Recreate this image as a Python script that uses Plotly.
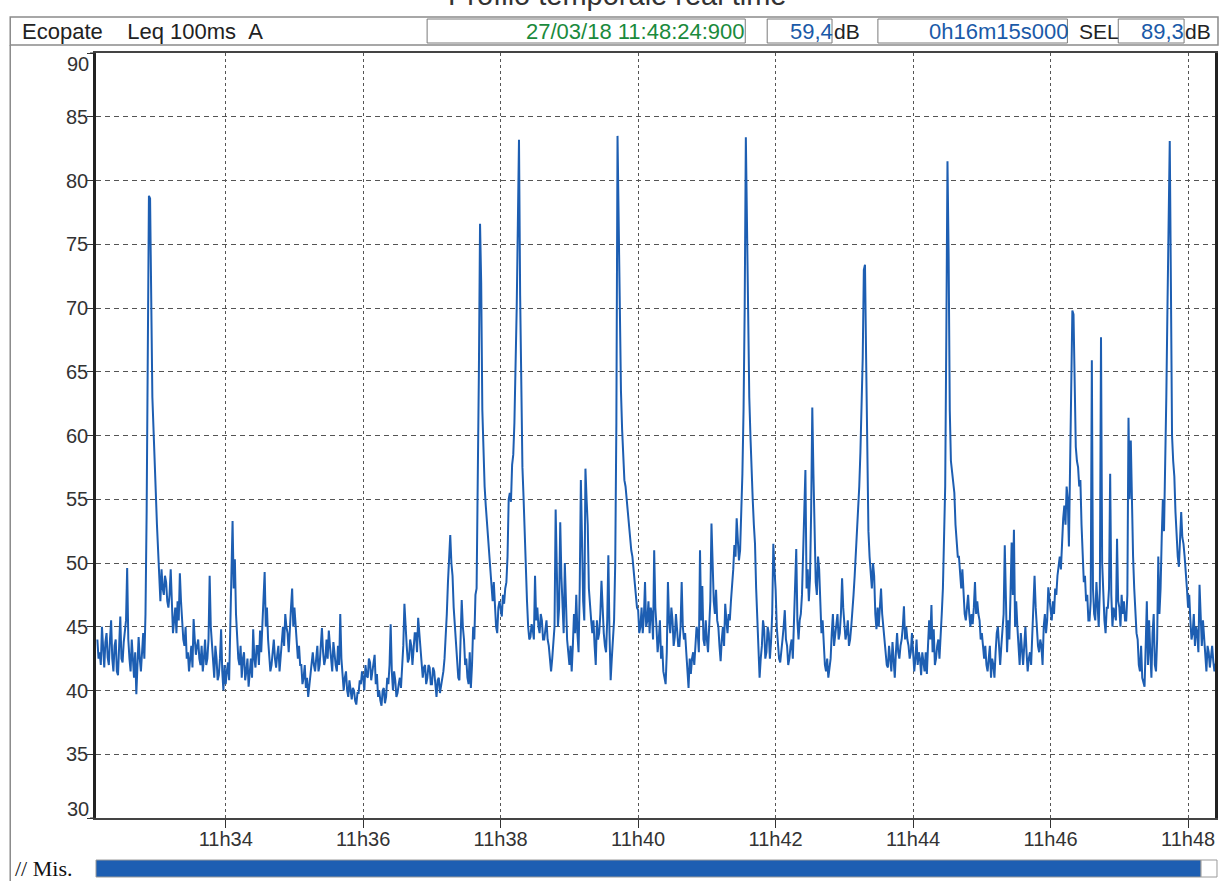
import pandas as pd
import plotly.graph_objects as go

# ---------------- data (Leq 100ms A, read every second) ----------------
# each block: values on the even seconds, then the values one second later
START = "2018-03-27 11:32:08"
STEP = "1s"

seg_1132 = [44.0, 43.0, 45.0, 41.8, 44.5, 42.0, 45.5, 41.5, 44.0, 41.2, 45.8,
            42.2, 44.5, 49.6, 42.5, 44.0, 41.0, 39.7, 44.2, 41.5, 44.5,
            46.0, 65.5, 78.6, 63.0, 57.0, 53.0, 48.0, 49.5, 47.5, 48.5,
            46.5, 49.5, 44.5, 46.5, 47.0, 49.2, 45.5, 43.5, 42.5, 41.5,
            43.5, 45.6, 42.8, 44.0, 42.0, 41.5, 44.0, 42.5, 49.0, 43.5,
            41.0, 42.5, 41.2, 44.8, 40.0]
seg_1132_odd = [42.5, 42.0, 43.5, 43.8, 42.6, 44.0, 42.5, 43.5, 41.5, 43.5, 42.5,
                43.8, 45.5, 44.0, 41.5, 42.5, 43.0, 42.0, 42.5, 43.0, 42.5,
                54.0, 78.8, 70.0, 60.5, 55.5, 50.5, 47.0, 48.0, 49.0, 47.0,
                47.5, 46.0, 45.5, 44.5, 45.5, 47.0, 44.0, 45.0, 43.0, 42.5,
                41.8, 44.0, 43.5, 42.5, 43.5, 42.5, 42.0, 44.0, 45.0, 42.0,
                43.5, 40.8, 42.5, 41.5, 42.0]

seg_1134 = [40.5, 42.2, 44.9, 53.3, 50.3, 44.5, 42.0, 41.0, 43.0, 41.5,
            40.3, 42.5, 44.8, 41.8, 43.5, 44.7, 45.5, 49.3, 46.5, 43.0,
            42.0, 44.0, 41.8, 43.5, 42.5, 45.0, 46.0, 44.5, 45.5, 48.0,
            46.5, 44.0, 43.5, 42.0, 41.0, 40.2, 39.5, 41.0, 43.0, 41.5,
            43.5, 42.0, 44.9, 42.0, 44.0, 44.7, 42.5, 43.8, 42.0, 43.5,
            46.0, 41.5, 41.0, 40.0, 40.8, 39.3, 40.0, 38.9, 39.8, 40.5]
seg_1134_odd = [41.5, 40.8, 47.0, 48.0, 46.0, 42.5, 43.5, 42.5, 40.8, 42.5,
                41.5, 41.0, 42.5, 43.5, 42.0, 43.0, 47.5, 45.0, 44.0, 41.5,
                43.2, 42.5, 42.8, 41.5, 44.0, 43.5, 45.0, 43.0, 46.5, 45.0,
                45.0, 42.5, 42.0, 40.5, 42.0, 41.0, 40.5, 42.5, 42.0, 42.5,
                41.5, 43.5, 43.0, 42.5, 42.5, 43.5, 41.5, 42.5, 41.5, 42.0,
                42.5, 40.0, 41.5, 39.5, 39.8, 40.2, 39.2, 39.8, 40.8, 41.5]

seg_1136 = [41.0, 42.0, 41.0, 42.2, 41.5, 42.8, 41.3, 40.0, 38.8, 40.2,
            39.5, 40.5, 45.2, 40.0, 40.8, 39.8, 41.0, 42.0, 46.8, 43.5,
            42.5, 43.5, 43.0, 44.5, 45.7, 44.0, 41.0, 42.0, 41.0, 41.8,
            40.5, 41.5, 39.5, 41.0, 40.3, 41.5, 44.0, 48.5, 52.2, 49.0,
            45.0, 42.0, 40.8, 47.1, 44.0, 42.5, 40.5, 40.2, 45.0, 47.5,
            55.0, 76.6, 62.0, 56.0, 53.3, 51.0, 49.0, 48.5, 45.0, 46.5]
seg_1136_odd = [40.0, 41.2, 42.5, 40.8, 42.2, 40.5, 39.5, 39.2, 40.0, 39.0,
                41.0, 42.0, 41.5, 41.5, 39.5, 40.5, 40.2, 43.5, 44.5, 42.2,
                44.0, 42.0, 44.5, 43.0, 44.5, 42.5, 41.8, 40.5, 42.0, 40.5,
                41.8, 40.5, 40.8, 39.8, 40.8, 42.5, 46.0, 51.0, 50.0, 46.5,
                43.5, 41.0, 44.0, 45.0, 42.0, 41.0, 43.0, 42.0, 44.0, 48.0,
                65.0, 72.0, 58.0, 54.5, 52.5, 50.0, 47.0, 46.5, 44.5, 47.0]

seg_1138 = [46.5, 47.5, 48.0, 50.5, 55.5, 57.7, 61.0, 70.0, 83.2, 61.5,
            55.1, 49.5, 45.0, 44.2, 44.8, 49.0, 46.5, 44.5, 45.5, 44.0,
            45.5, 43.5, 41.5, 43.5, 54.2, 45.0, 53.2, 46.5, 50.0, 44.0,
            42.0, 41.5, 46.0, 47.5, 43.0, 56.5, 47.0, 57.4, 53.0, 46.5,
            44.5, 43.5, 45.5, 44.5, 48.6, 44.5, 43.0, 50.6, 40.8, 44.0,
            50.0, 83.5, 68.0, 60.5, 56.5, 55.0, 52.5, 51.0, 49.5, 47.6]
seg_1138_odd = [45.8, 46.8, 48.5, 55.0, 54.8, 58.5, 64.5, 76.5, 71.0, 57.5,
                52.0, 47.0, 44.0, 45.2, 44.0, 45.5, 45.0, 46.0, 44.0, 45.0,
                44.0, 42.5, 42.5, 45.0, 47.5, 46.5, 49.0, 44.5, 46.0, 43.0,
                43.5, 43.5, 44.5, 44.5, 48.0, 52.0, 45.5, 55.0, 48.0, 45.5,
                45.5, 42.0, 44.0, 46.0, 46.0, 43.5, 45.5, 44.5, 42.5, 45.5,
                61.0, 76.0, 63.5, 58.5, 56.0, 54.0, 51.5, 50.5, 48.5, 46.5]

seg_1140 = [46.3, 45.0, 44.5, 48.5, 45.5, 44.5, 46.0, 51.0, 45.0, 44.0,
            42.5, 41.5, 40.5, 48.5, 44.5, 45.5, 44.2, 45.0, 43.5, 48.5,
            44.0, 43.0, 40.2, 41.3, 43.0, 44.0, 44.5, 51.0, 48.2, 43.5,
            44.0, 45.0, 53.1, 47.0, 47.9, 45.0, 42.3, 45.0, 46.8, 44.5,
            45.5, 48.0, 51.4, 53.5, 50.2, 54.0, 62.0, 83.4, 68.0, 60.0,
            55.0, 51.5, 45.5, 41.0, 43.5, 44.8, 43.0, 44.5, 43.8, 51.5]
seg_1140_odd = [44.5, 46.5, 45.8, 45.0, 47.0, 46.5, 44.0, 46.5, 43.0, 45.5,
                43.5, 40.8, 43.0, 45.5, 46.5, 43.5, 46.0, 43.5, 45.0, 45.0,
                44.5, 41.5, 42.5, 42.5, 42.0, 45.0, 43.0, 45.5, 44.0, 45.5,
                43.0, 47.0, 49.5, 46.0, 45.5, 43.5, 44.0, 43.5, 45.5, 46.0,
                47.0, 49.5, 50.5, 52.0, 51.0, 57.0, 70.0, 75.0, 63.0, 57.0,
                53.0, 48.0, 42.5, 42.5, 45.5, 42.5, 45.0, 42.5, 46.0, 49.5]

seg_1142 = [47.9, 44.0, 42.2, 44.0, 46.3, 43.5, 42.5, 44.0, 45.0, 51.1,
            44.0, 46.0, 50.8, 57.3, 49.5, 48.8, 62.2, 53.5, 47.5, 49.5,
            44.5, 43.0, 41.5, 41.0, 42.5, 46.0, 44.5, 46.0, 44.5, 48.8,
            45.5, 44.5, 43.5, 45.0, 47.5, 50.8, 54.0, 58.7, 66.0, 73.4,
            57.0, 50.5, 48.0, 49.0, 44.8, 45.0, 48.0, 45.0, 43.0, 41.8,
            42.5, 43.8, 41.0, 44.5, 42.5, 44.0, 46.6, 45.0, 43.5, 43.0]
seg_1142_odd = [45.0, 42.5, 43.5, 45.0, 44.0, 42.0, 43.5, 42.5, 47.0, 45.5,
                45.5, 47.5, 53.5, 48.0, 47.0, 54.0, 57.0, 48.5, 50.5, 46.0,
                45.5, 42.0, 42.5, 42.0, 44.5, 43.5, 45.5, 44.0, 46.0, 46.5,
                44.0, 45.5, 44.0, 46.0, 49.0, 52.0, 56.0, 62.0, 73.0, 66.0,
                52.5, 49.0, 50.0, 46.0, 46.5, 46.5, 46.0, 44.0, 42.0, 43.5,
                41.5, 42.5, 43.0, 43.0, 43.5, 45.0, 44.0, 44.0, 42.5, 44.5]

seg_1144 = [42.8, 42.5, 42.0, 42.5, 43.0, 41.5, 41.3, 45.5, 46.7, 44.8,
            42.5, 44.0, 45.0, 48.0, 56.0, 81.5, 62.0, 57.0, 55.5, 51.5,
            50.5, 48.0, 47.5, 45.5, 47.5, 45.0, 45.2, 48.5, 47.0, 45.5,
            44.5, 42.5, 42.0, 42.5, 41.0, 42.0, 43.0, 45.0, 42.0, 44.5,
            51.4, 43.0, 44.0, 51.6, 52.6, 47.0, 43.0, 44.5, 42.0, 45.0,
            41.5, 43.0, 44.0, 49.0, 45.0, 43.0, 43.5, 45.0, 44.5, 48.1]
seg_1144_odd = [41.5, 44.0, 43.0, 41.2, 42.0, 43.0, 43.5, 44.0, 43.0, 42.0,
                43.5, 42.5, 46.0, 52.0, 68.0, 74.0, 58.0, 56.0, 53.0, 50.5,
                49.0, 49.5, 46.0, 46.5, 46.0, 46.0, 46.5, 46.0, 46.0, 44.0,
                43.5, 43.5, 41.5, 43.5, 42.5, 41.0, 44.5, 43.0, 43.5, 46.0,
                45.5, 45.5, 47.5, 47.5, 45.0, 45.0, 42.0, 43.5, 43.5, 43.0,
                42.5, 42.0, 46.0, 46.5, 43.5, 44.0, 42.0, 46.0, 45.5, 47.0]

seg_1146 = [46.5, 47.0, 48.0, 49.0, 50.5, 52.0, 54.5, 56.0, 51.3, 65.0,
            69.5, 59.1, 57.5, 56.5, 50.3, 49.0, 47.5, 45.5, 65.9, 46.0,
            48.5, 45.0, 67.7, 47.0, 44.5, 46.5, 57.0, 45.0, 46.0, 51.9,
            46.5, 47.5, 47.0, 45.5, 61.4, 59.6, 50.5, 46.0, 44.0, 41.5,
            41.0, 40.3, 47.0, 45.5, 41.0, 46.0, 41.5, 50.5, 48.0, 55.0,
            60.0, 70.0, 83.1, 60.0, 56.8, 52.0, 49.7, 54.0, 51.5, 49.5]
seg_1146_odd = [45.5, 46.0, 47.5, 50.0, 49.5, 53.5, 53.0, 55.0, 58.0, 69.8,
                62.0, 58.0, 56.0, 53.0, 48.5, 47.0, 45.5, 47.0, 48.0, 45.5,
                46.5, 48.0, 50.0, 45.5, 46.5, 48.0, 47.5, 46.5, 45.5, 47.0,
                45.0, 46.0, 45.5, 47.5, 55.0, 54.0, 48.0, 44.5, 42.0, 43.5,
                40.5, 43.5, 42.0, 43.0, 44.5, 42.0, 44.0, 46.0, 52.0, 52.5,
                63.0, 77.0, 72.0, 58.0, 54.0, 50.5, 51.5, 52.0, 50.5, 48.0]

seg_1148 = [46.5, 45.5, 44.5, 43.5, 44.5, 48.3, 43.5, 44.0, 41.5, 43.0,
            42.5, 42.3, 42.0]
seg_1148_odd = [47.5, 44.0, 46.0, 45.0, 43.0, 45.0, 45.5, 42.5, 43.5, 41.8,
                43.5, 41.5, 42.5]

x_range = ["2018-03-27 11:32:06.8", "2018-03-27 11:48:23.5"]
x_tick_times = ["2018-03-27 11:34:00", "2018-03-27 11:36:00", "2018-03-27 11:38:00",
                "2018-03-27 11:40:00", "2018-03-27 11:42:00", "2018-03-27 11:44:00",
                "2018-03-27 11:46:00", "2018-03-27 11:48:00"]
x_tick_labels = ["11h34", "11h36", "11h38", "11h40", "11h42", "11h44", "11h46", "11h48"]
y_tick_values = [30, 35, 40, 45, 50, 55, 60, 65, 70, 75, 80, 85, 90]
y_tick_labels = ["", "35", "40", "45", "50", "55", "60", "65", "70", "75", "80", "85", ""]

title_text = "Profilo temporale real time"
header_left = "Ecopate&nbsp;&nbsp;&nbsp;&nbsp;Leq 100ms&nbsp;&nbsp;A"
header_date = "27/03/18 11:48:24:900"
header_leq = "59,4"
header_dur = "0h16m15s000"
header_sel = "89,3"

blocks = [(seg_1132, seg_1132_odd), (seg_1134, seg_1134_odd), (seg_1136, seg_1136_odd),
          (seg_1138, seg_1138_odd), (seg_1140, seg_1140_odd), (seg_1142, seg_1142_odd),
          (seg_1144, seg_1144_odd), (seg_1146, seg_1146_odd), (seg_1148, seg_1148_odd)]
values = []
for even, odd in blocks:
    for a, b in zip(even, odd):
        values += [a, b]
times = pd.date_range(START, periods=len(values), freq=STEP)

# ---------------- figure ----------------
W, H = 1222, 881
PL, PR, PT, PB = 96, 1218, 53, 818


def px(x):
    return (x - PL) / (PR - PL)


def py(y):
    return (PB - y) / (PB - PT)


BLUE = "#1d5eb2"
FONT = "Liberation Sans, Arial, sans-serif"

fig = go.Figure()
fig.add_trace(go.Scatter(x=times, y=values, mode="lines",
                         line=dict(color=BLUE, width=2.0), hoverinfo="skip"))

shapes = []


def rect(x0, y0, x1, y1, color="#7a7a7a", width=1, fill=None):
    shapes.append(dict(type="rect", xref="paper", yref="paper",
                       x0=px(x0), x1=px(x1), y0=py(y1), y1=py(y0),
                       line=dict(color=color, width=width),
                       fillcolor=fill if fill else "rgba(0,0,0,0)", layer="above"))


def line(x0, y0, x1, y1, color="#7a7a7a", width=1):
    shapes.append(dict(type="line", xref="paper", yref="paper",
                       x0=px(x0), x1=px(x1), y0=py(y0), y1=py(y1),
                       line=dict(color=color, width=width), layer="above"))


# header frame and left page border
rect(10, 17, 1221, 45, color="#8a8a8a", width=1.5)
line(10, 45, 10, 881, color="#8a8a8a", width=1.5)
# value boxes
rect(428, 19, 747, 43)
rect(769, 19, 834, 43)
rect(880, 19, 1070, 43)
rect(1121, 19, 1187, 43)
# y tick marks at the frame ends
line(90, 53, 96, 53, color="#333", width=1)
line(90, 818, 96, 818, color="#333", width=1)
# bottom progress bar
rect(96, 860, 1204, 877, color="#9a9a9a", width=1, fill=BLUE)
rect(1204, 860, 1220, 877, color="#9a9a9a", width=1, fill="white")

annotations = []


def text(x, y, s, color="#222", size=22, anchor="left", family=FONT):
    annotations.append(dict(xref="paper", yref="paper", x=px(x), y=py(y),
                            text=s, showarrow=False, xanchor=anchor, yanchor="middle",
                            font=dict(family=family, size=size, color=color)))


text(618, -5, title_text, color="#333", size=29, anchor="center")
text(20, 31, header_left)
text(749, 31, header_date, color="#1a8a3c", anchor="right")
text(837, 31, header_leq, color="#1a5aa8", anchor="right")
text(834, 31, "dB", size=21)
text(1073, 31, header_dur, color="#1a5aa8", anchor="right")
text(1080, 31, "SEL", size=21)
text(1189, 31, header_sel, color="#1a5aa8", anchor="right")
text(1186, 31, "dB", size=21)
text(91, 64, "90", color="#333", size=20, anchor="right")
text(91, 809, "30", color="#333", size=20, anchor="right")
text(13, 868, "// Mis.", color="#111", size=22, family="Liberation Serif, Times New Roman, serif")

fig.update_layout(
    width=W, height=H,
    margin=dict(l=PL, r=W - PR, t=PT, b=H - PB, pad=0),
    paper_bgcolor="white", plot_bgcolor="white",
    showlegend=False,
    shapes=shapes, annotations=annotations,
    font=dict(family=FONT, size=20, color="#333"),
)
fig.update_xaxes(
    type="date", range=x_range,
    tickvals=x_tick_times, ticktext=x_tick_labels,
    ticks="outside", ticklen=8, tickcolor="#333", tickwidth=1,
    ticklabelstandoff=-6,
    showgrid=True, gridcolor="#555", gridwidth=1, griddash="3px,3px",
    showline=True, linecolor="#444", linewidth=1.5, mirror=True,
    tickfont=dict(size=20, color="#333", family=FONT),
    zeroline=False,
)
fig.update_yaxes(
    range=[30, 90],
    tickvals=y_tick_values, ticktext=y_tick_labels,
    ticks="outside", ticklen=6, tickcolor="#333", tickwidth=1,
    ticklabelstandoff=-5,
    showgrid=True, gridcolor="#555", gridwidth=1, griddash="5px,4px",
    showline=True, linecolor="#222", linewidth=2.5, mirror=True,
    tickfont=dict(size=20, color="#333", family=FONT),
    zeroline=False,
)

fig.write_html("out.html", config={"displayModeBar": False},
               post_script="document.body.style.margin='0';")
